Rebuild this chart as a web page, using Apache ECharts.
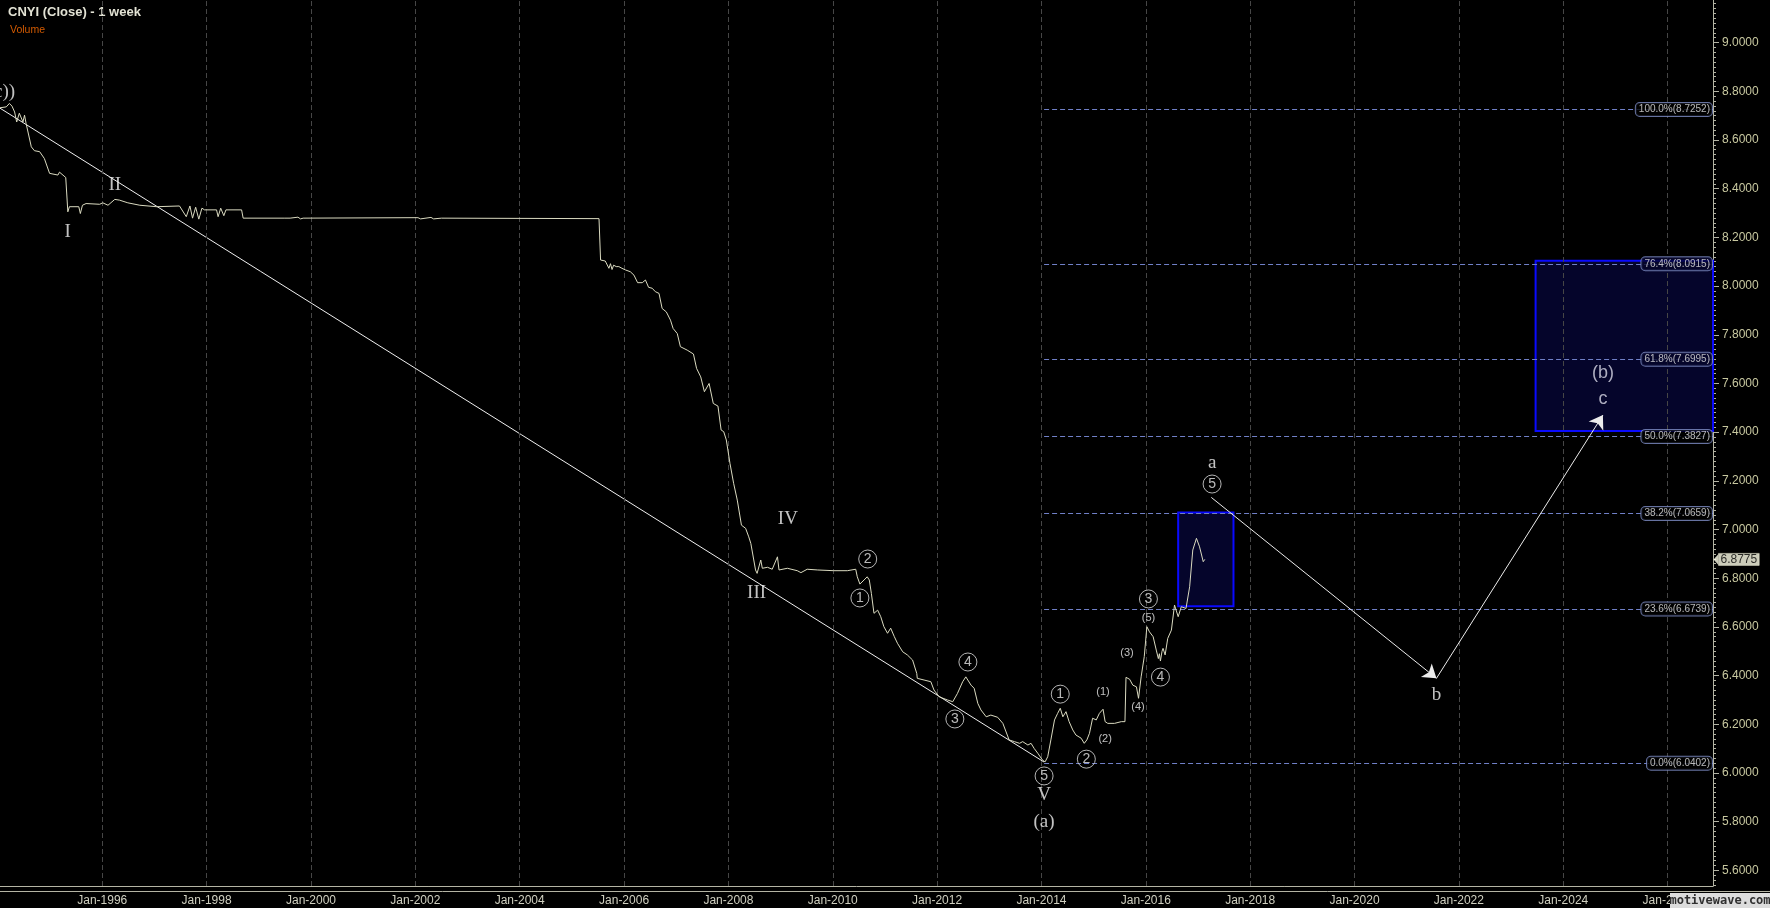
<!DOCTYPE html>
<html><head><meta charset="utf-8">
<script src="https://cdn.jsdelivr.net/npm/echarts@6/dist/echarts.min.js"></script>
<style>html,body{margin:0;padding:0;background:#000;}#c{width:1770px;height:908px;}</style>
</head><body><div id="c"></div>
<script>
// ---- data ----
const priceYears = [
1994.03,1994.06,1994.16,1994.22,1994.27,1994.32,1994.36,1994.41,1994.48,1994.51,1994.54,1994.64,1994.70,1994.80,1994.89,1994.99,
1995.15,1995.18,1995.30,1995.34,1995.37,1995.55,1995.58,1995.62,1995.69,1995.95,1996.01,1996.11,1996.24,1996.33,1996.49,1996.72,
1997.04,1997.48,1997.61,1997.68,1997.73,1997.79,1997.85,1997.91,1997.96,1998.19,1998.22,1998.27,1998.33,1998.37,1998.67,1998.70,
1999.50,1999.53,1999.60,1999.75,1999.80,1999.85,2002.05,2002.10,2002.30,2002.35,2002.50,2005.52,
2005.55,2005.64,2005.71,2005.74,2005.77,2005.80,2005.85,2005.90,2005.96,2006.03,2006.12,2006.19,2006.26,2006.35,2006.41,2006.47,
2006.54,2006.60,2006.67,2006.73,2006.81,2006.89,2006.94,2007.02,2007.08,2007.21,2007.33,2007.39,2007.47,2007.54,2007.63,2007.71,
2007.80,2007.86,2007.91,2007.96,2008.03,2008.10,2008.17,2008.25,2008.33,2008.39,2008.43,2008.52,2008.55,2008.62,2008.65,2008.75,
2008.84,2008.94,2008.97,2009.13,2009.32,2009.39,2009.51,2009.71,2010.02,2010.28,2010.44,2010.47,2010.52,2010.60,2010.66,2010.70,
2010.74,2010.79,2010.86,2010.92,2010.98,2011.05,2011.11,2011.18,2011.24,2011.34,2011.43,2011.53,2011.61,2011.62,2011.75,2011.88,
2011.94,2012.04,2012.20,2012.30,2012.39,2012.49,2012.55,2012.65,2012.71,2012.78,2012.84,2012.94,2013.03,2013.16,2013.26,2013.38,
2013.48,2013.58,2013.64,2013.74,2013.80,2013.86,2013.93,2014.02,2014.07,2014.12,2014.18,2014.25,2014.31,2014.36,2014.41,2014.47,
2014.53,2014.60,2014.66,2014.76,2014.82,2014.87,2014.92,2014.98,2015.05,2015.11,2015.18,2015.22,2015.27,2015.40,2015.53,2015.60,
2015.62,2015.69,2015.75,2015.82,2015.86,2015.91,2015.97,2016.02,2016.07,2016.14,2016.20,2016.24,2016.26,2016.28,2016.31,2016.33,
2016.37,2016.42,2016.49,2016.55,2016.62,2016.68,2016.77,2016.84,2016.90,2016.97,2017.03,2017.10,2017.13];
const priceValues = [
8.732,8.730,8.736,8.750,8.739,8.715,8.674,8.710,8.674,8.702,8.668,8.572,8.556,8.552,8.524,8.463,
8.456,8.468,8.446,8.305,8.326,8.326,8.298,8.332,8.339,8.336,8.342,8.332,8.356,8.353,8.342,8.332,
8.326,8.329,8.285,8.329,8.279,8.324,8.275,8.320,8.313,8.313,8.285,8.320,8.289,8.313,8.313,8.279,
8.279,8.271,8.279,8.283,8.276,8.279,8.281,8.276,8.282,8.276,8.279,8.277,
8.107,8.103,8.073,8.092,8.068,8.086,8.080,8.080,8.073,8.066,8.059,8.045,8.014,8.014,8.025,7.995,
7.991,7.977,7.970,7.908,7.894,7.860,7.826,7.805,7.751,7.737,7.721,7.662,7.627,7.566,7.600,7.518,
7.507,7.409,7.402,7.368,7.272,7.190,7.121,7.018,7.005,6.970,6.943,6.834,6.820,6.875,6.841,6.845,
6.837,6.888,6.834,6.841,6.831,6.823,6.837,6.834,6.831,6.831,6.837,6.806,6.776,6.793,6.806,6.793,
6.738,6.656,6.669,6.642,6.601,6.574,6.595,6.560,6.533,6.498,6.485,6.464,6.409,6.389,6.382,6.375,
6.341,6.313,6.300,6.293,6.327,6.375,6.395,6.361,6.348,6.286,6.259,6.231,6.238,6.229,6.204,6.136,
6.129,6.122,6.129,6.115,6.122,6.101,6.081,6.053,6.046,6.067,6.136,6.218,6.245,6.266,6.231,6.252,
6.211,6.177,6.156,6.143,6.122,6.136,6.163,6.225,6.218,6.245,6.262,6.211,6.204,6.204,6.211,6.211,
6.393,6.385,6.361,6.354,6.307,6.395,6.478,6.601,6.580,6.560,6.505,6.470,6.490,6.460,6.500,6.512,
6.485,6.553,6.587,6.690,6.642,6.683,6.676,6.765,6.916,6.964,6.929,6.868,6.8775];
const lastClose = 6.8775;

const trendYears = [1994.03, 2014.05];
const trendValues = [8.732, 6.045];

const projYears = [2017.255, 2021.57, 2024.76];
const projValues = [7.132, 6.389, 7.470];

const fibRatios = [100.0, 76.4, 61.8, 50.0, 38.2, 23.6, 0.0];
const fibValues = [8.7252, 8.0915, 7.6995, 7.3827, 7.0659, 6.6739, 6.0402];
const fibStartYear = 2014.05;

const boxX1 = [2016.62, 2023.47];
const boxX2 = [2017.68, 2026.87];
const boxTop = [7.07, 8.104];
const boxBottom = [6.685, 7.405];

const xTickYears = [1996,1998,2000,2002,2004,2006,2008,2010,2012,2014,2016,2018,2020,2022,2024,2026];
const yTickValues = [5.6,5.8,6.0,6.2,6.4,6.6,6.8,7.0,7.2,7.4,7.6,7.8,8.0,8.2,8.4,8.6,8.8,9.0];

const serifText = ['I','II','III','IV','V','(a)','a','b','((c))'];
const serifX = [1995.335,1996.24,2008.54,2009.14,2014.05,2014.05,2017.27,2021.57,1994.33];
const serifY = [8.222,8.414,6.740,7.043,5.910,5.799,7.273,6.320,8.797];

const sansText = ['(b)','c'];
const sansX = [2024.76,2024.76];
const sansY = [7.643,7.536];

const circleText = ['2','1','4','3','5','1','2','3','4','5'];
const circleX = [2010.67,2010.52,2012.59,2012.34,2014.05,2014.36,2014.86,2016.05,2016.28,2017.27];
const circleY = [6.879,6.719,6.456,6.222,5.988,6.324,6.057,6.715,6.394,7.187];

const parenText = ['(1)','(2)','(3)','(4)','(5)'];
const parenX = [2015.18,2015.22,2015.64,2015.85,2016.05];
const parenY = [6.333,6.140,6.493,6.271,6.637];

// ---- chart ----
const X_MIN = 1994.04, X_MAX = 2026.87, Y_MIN = 5.536, Y_MAX = 9.175;
const minorTicks = [];
for (let k = Math.ceil(Y_MIN*50); k <= Math.floor(Y_MAX*50); k++) minorTicks.push(k/50);

const chart = echarts.init(document.getElementById('c'), null, {renderer:'canvas'});
const SANS = '"Liberation Sans", Arial, sans-serif';
const SERIF = '"Liberation Serif", "Times New Roman", serif';

const series = [];
// boxes
series.push({type:'line', data:[], z:1, silent:true,
  markArea:{silent:true, itemStyle:{color:'#05052b', borderColor:'#0a0aff', borderWidth:2},
    data: boxX1.map((x,i)=>[{coord:[x, boxTop[i]]},{coord:[boxX2[i], boxBottom[i]]}])}});
// vertical grid
series.push({type:'line', data:[], z:2, silent:true,
  markLine:{silent:true, symbol:['none','none'], label:{show:false},
    lineStyle:{color:'#464646', type:[5,3], width:1},
    data: xTickYears.map(y=>({xAxis:y}))}});
// fib lines
series.push({type:'line', data:[], z:3, silent:true,
  markLine:{silent:true, symbol:['none','none'], label:{show:false},
    lineStyle:{color:'#7080c8', type:[5,3], width:1},
    data: fibValues.map(v=>[{coord:[fibStartYear, v]},{coord:[X_MAX, v]}])}});
// trend line
series.push({type:'line', z:4, silent:true, showSymbol:false, lineStyle:{color:'#f0f0f0', width:1},
  data: trendYears.map((x,i)=>[x, trendValues[i]])});
// projection arrows
series.push({type:'line', data:[], z:4, silent:true, color:'#ececec',
  markLine:{silent:true, symbol:['none','arrow'], symbolSize:13, label:{show:false},
    itemStyle:{color:'#ececec'},
    lineStyle:{color:'#ececec', type:'solid', width:1},
    data: [[{coord:[projYears[0],projValues[0]]},{coord:[projYears[1],projValues[1]]}],
           [{coord:[projYears[1],projValues[1]]},{coord:[projYears[2],projValues[2]]}]]}});
// price
series.push({type:'line', z:5, silent:true, showSymbol:false, lineStyle:{color:'#dadac0', width:1},
  data: priceYears.map((x,i)=>[x, priceValues[i]])});
// fib labels
series.push({type:'scatter', z:6, silent:true, symbolSize:0, clip:false,
  data: fibValues.map((v,i)=>({value:[X_MAX, v],
    label:{backgroundColor:(i===1||i===2)?'#05052b':'#000'}})),
  label:{show:true, position:'left', distance:1, fontSize:10, fontFamily:SANS, color:'#e4e4e4',
    borderColor:'#7f8fc8', borderWidth:1, borderRadius:4, padding:[2,2,1,3],
    formatter: p => fibRatios[p.dataIndex].toFixed(1)+'%('+fibValues[p.dataIndex].toFixed(4)+')'}});
// serif labels
series.push({type:'scatter', z:7, silent:true, symbolSize:0, clip:false,
  data: serifX.map((x,i)=>({value:[x, serifY[i]],
    label: i===8 ? {align:'right'} : {}})),
  label:{show:true, position:'inside', fontSize:19, fontFamily:SERIF, color:'#f2f2f2',
    formatter: p => serifText[p.dataIndex]}});
// sans labels
series.push({type:'scatter', z:7, silent:true, symbolSize:0, clip:false,
  data: sansX.map((x,i)=>[x, sansY[i]]),
  label:{show:true, position:'inside', fontSize:18, fontFamily:SANS, color:'#d8d8e6',
    formatter: p => sansText[p.dataIndex]}});
// circled
series.push({type:'scatter', z:7, silent:true, symbol:'circle', symbolSize:18, clip:false,
  itemStyle:{color:'rgba(0,0,0,0)', borderColor:'#e0e0e0', borderWidth:1},
  data: circleX.map((x,i)=>[x, circleY[i]]),
  label:{show:true, position:'inside', fontSize:14, fontFamily:SANS, color:'#e6e6e6',
    formatter: p => circleText[p.dataIndex]}});
// parenthesized
series.push({type:'scatter', z:7, silent:true, symbolSize:0, clip:false,
  data: parenX.map((x,i)=>[x, parenY[i]]),
  label:{show:true, position:'inside', fontSize:11, fontFamily:SANS, color:'#ececec',
    formatter: p => parenText[p.dataIndex]}});
// last close tag
series.push({type:'scatter', z:8, silent:true, clip:false,
  symbol:'path://M0,5L6,0L6,10Z', symbolSize:[5,11], symbolOffset:[3,0],
  itemStyle:{color:'#ffffe8'},
  data:[[X_MAX, lastClose]],
  label:{show:true, position:'right', distance:0, fontSize:12, fontFamily:SANS, color:'#000',
    backgroundColor:'#ffffe8', padding:[0,2,0,2], borderColor:'#909080', borderWidth:0.5,
    formatter: () => lastClose.toFixed(4)}});

chart.setOption({
  backgroundColor:'#000',
  animation:false,
  grid:{left:0, right:57, top:0, bottom:22},
  xAxis:{type:'value', min:X_MIN, max:X_MAX,
    axisLine:{show:true, lineStyle:{color:'#b4b4a4', width:1}},
    axisTick:{show:false},
    splitLine:{show:false},
    axisLabel:{customValues:xTickYears, formatter: v => 'Jan-' + v, color:'#d0d0c0',
      fontSize:12, fontFamily:SANS, margin:9}},
  yAxis:[{type:'value', position:'right', min:Y_MIN, max:Y_MAX,
    axisLine:{show:true, lineStyle:{color:'#b4b4a4', width:1}},
    axisTick:{show:true, length:6, customValues:yTickValues, lineStyle:{color:'#b4b4a4'}},
    splitLine:{show:false},
    axisLabel:{customValues:yTickValues, formatter: v => v.toFixed(4), color:'#c8c8a0',
      fontSize:12, fontFamily:SANS, margin:9}},
   {type:'value', position:'right', min:Y_MIN, max:Y_MAX,
    axisLine:{show:false},
    axisTick:{show:true, length:3, customValues:minorTicks, lineStyle:{color:'#b4b4a4'}},
    splitLine:{show:false},
    axisLabel:{show:false}}],
  graphic:[
    {type:'line', silent:true, shape:{x1:0, y1:891.5, x2:1770, y2:891.5}, style:{stroke:'#b4b4a4', lineWidth:1}},
    {type:'text', silent:true, x:8, y:12.5, style:{text:'CNYI (Close) - 1 week', fill:'#e2e2d4',
      font:'bold 13px '+SANS, textVerticalAlign:'middle'}},
    {type:'text', silent:true, x:10, y:30, style:{text:'Volume', fill:'#d25a00',
      font:'10.5px '+SANS, textVerticalAlign:'middle'}},
    {type:'rect', silent:true, z:100, shape:{x:1670, y:893, width:100, height:15}, style:{fill:'#dcdcdc'}},
    {type:'text', silent:true, z:101, x:1720, y:901, style:{text:'motivewave.com', fill:'#303030',
      font:'bold 12px "DejaVu Sans Mono", monospace', textAlign:'center', textVerticalAlign:'middle'}}
  ],
  series: series
});
</script></body></html>
